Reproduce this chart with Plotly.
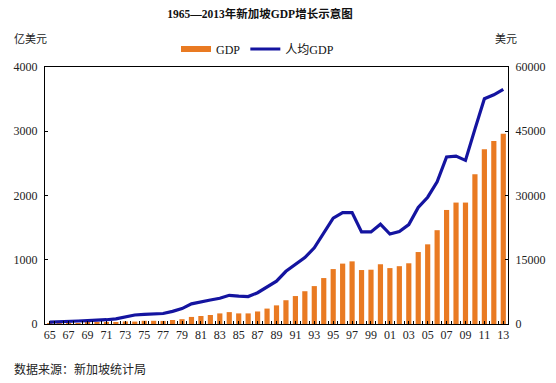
import plotly.graph_objects as go

years = list(range(1965, 2014))
year_labels = [f"{y % 100:02d}" for y in years]

# GDP, 亿美元 (left axis)
gdp = [10, 11, 12, 14, 16, 19, 22,
       25, 40, 38, 50, 50, 48, 62, 75,
       110, 125, 140, 165, 185, 165, 165, 195, 240, 290,
       370, 435, 510, 590, 715, 855, 940, 975, 840, 845,
       930, 870, 900, 945, 1120, 1240, 1460, 1775, 1890, 1890,
       2330, 2720, 2850, 2960]

# 人均GDP, 美元 (right axis)
gdp_pc = [450, 480, 650, 700, 800, 850, 1000,
          1200, 1700, 2100, 2250, 2350, 2450, 2950, 3600,
          4700, 5200, 5600, 6000, 6700, 6500, 6400, 7300, 8600, 10000,
          12300, 14000, 15500, 17800, 21200, 24700, 26000, 26000, 21500, 21500,
          23300, 21000, 21600, 23200, 27200, 29600, 33200, 39000, 39200, 38200,
          45500, 52600, 53500, 54800]

left_ticks = [0, 1000, 2000, 3000, 4000]
right_ticks = [0, 15000, 30000, 45000, 60000]

ORANGE = "#E97A22"
BLUE = "#1414A0"
SERIF = "Liberation Serif, Noto Sans CJK SC, serif"
CJK = "Noto Sans CJK SC, sans-serif"

fig = go.Figure()
fig.add_trace(go.Bar(x=years, y=gdp, name="GDP", marker=dict(color=ORANGE, line=dict(width=0)),
                     width=0.55, showlegend=False, legendgroup="gdp"))
# legend entry for bars drawn as a wide swatch
fig.add_trace(go.Scatter(x=[None], y=[None], mode="lines", name="GDP",
                         line=dict(color=ORANGE, width=6), legendgroup="gdp"))
fig.add_trace(go.Scatter(x=years, y=gdp_pc, name="人均GDP", mode="lines", yaxis="y2",
                         line=dict(color=BLUE, width=3.2)))

fig.update_layout(
    width=556, height=383,
    margin=dict(l=45, r=48, t=67, b=59, autoexpand=False),
    paper_bgcolor="white", plot_bgcolor="white",
    font=dict(family=SERIF, size=12, color="#222"),
    title=dict(text="<b>1965—2013年新加坡GDP增长示意图</b>", x=260 / 556, xanchor="center",
               y=1 - 14 / 383, yanchor="middle", font=dict(family=SERIF, size=11.5, color="#111")),
    showlegend=True,
    legend=dict(orientation="h", x=(176 - 45) / 463, xanchor="left", y=(324 - 49) / 257,
                yanchor="middle", font=dict(family=SERIF, size=12, color="#111"),
                bgcolor="rgba(0,0,0,0)", itemwidth=30, tracegroupgap=0, traceorder="normal"),
    xaxis=dict(range=[1964.5, 2013.5], tickvals=years[::2], ticktext=year_labels[::2],
               showline=True, linecolor="black", linewidth=1, mirror=True, automargin=False,
               ticks="inside", ticklen=3, tickcolor="black", showgrid=False, zeroline=False,
               minor=dict(dtick=1, tick0=1964.5, ticks="inside", ticklen=3, tickcolor="black", showgrid=False),
               tickfont=dict(family=SERIF, size=12, color="#222")),
    yaxis=dict(range=[0, 4000], tickvals=left_ticks, showline=True, linecolor="black", linewidth=1,
               ticks="inside", ticklen=3, tickcolor="black", showgrid=False, zeroline=False,
               automargin=False, tickformat="d",
               ticklabelstandoff=4, tickfont=dict(family=SERIF, size=12, color="#222")),
    yaxis2=dict(range=[0, 60000], tickvals=right_ticks, overlaying="y", side="right",
                showline=True, linecolor="black", linewidth=1, automargin=False, tickformat="d",
                ticks="inside", ticklen=3, tickcolor="black", showgrid=False, zeroline=False,
                ticklabelstandoff=4, tickfont=dict(family=SERIF, size=12, color="#222")),
    bargap=0.45,
)

fig.add_annotation(text="亿美元", xref="paper", yref="paper", x=-(45 - 12) / 463, xanchor="left",
                   y=(324 - 38) / 257, yanchor="middle", showarrow=False,
                   font=dict(family=CJK, size=11, color="#222"))
fig.add_annotation(text="美元", xref="paper", yref="paper", x=(493 - 45) / 463, xanchor="left",
                   y=(324 - 38) / 257, yanchor="middle", showarrow=False,
                   font=dict(family=CJK, size=11, color="#222"))
fig.add_annotation(text="数据来源：新加坡统计局", xref="paper", yref="paper", x=-(45 - 12) / 463,
                   xanchor="left", y=-(368 - 324) / 257, yanchor="middle", showarrow=False,
                   font=dict(family=CJK, size=12, color="#222"))

fig.write_html("out.html", config={"displayModeBar": False},
               post_script="document.body.style.margin='0';document.body.style.overflow='hidden';")
